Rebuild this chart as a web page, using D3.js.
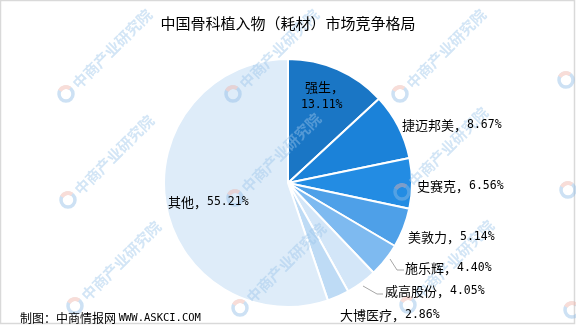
<!DOCTYPE html>
<html><head><meta charset="utf-8">
<script src="https://cdn.jsdelivr.net/npm/d3@7"></script>
<style>html,body{margin:0;padding:0;background:#fff;}svg{display:block;}</style>
</head><body>
<svg id="chart" width="576" height="326"></svg>
<script>
const title = "中国骨科植入物（耗材）市场竞争格局";
const categories = ["强生", "捷迈邦美", "史赛克", "美敦力", "施乐辉", "威高股份", "大博医疗", "其他"];
const values = [13.11, 8.67, 6.56, 5.14, 4.40, 4.05, 2.86, 55.21];
const colors = ["#1a76c5", "#1b82d9", "#238ce3", "#4ea0e8", "#7ebaf0", "#d3e6f8", "#bedbf5", "#deecf9"];
const footer = "制图：中商情报网 WWW.ASKCI.COM";
const watermark = "中商产业研究院";

const svg = d3.select("#chart");
const W = 576, H = 326;
const cx = 288, cy = 183, R = 124;

svg.append("rect").attr("x", 0.5).attr("y", 0.5).attr("width", W - 2).attr("height", H - 3)
  .attr("fill", "#fff").attr("stroke", "#d9d9d9").attr("stroke-width", 1.5);

const data = categories.map((c, i) => ({ name: c, value: values[i], color: colors[i] }));
const pie = d3.pie().value(d => d.value).sort(null).startAngle(0).endAngle(2 * Math.PI);
const arc = d3.arc().innerRadius(0).outerRadius(R);
const arcs = pie(data);

const g = svg.append("g").attr("transform", `translate(${cx},${cy})`);
g.selectAll("path").data(arcs).enter().append("path")
  .attr("d", arc).attr("fill", d => d.data.color)
  .attr("stroke", "#fff").attr("stroke-width", 2).attr("stroke-linejoin", "round");

// watermarks (kept inside the frame)
const wmPos = [[66, 94], [233, 94], [400, 94], [68, 200], [235, 198], [402, 192], [75, 306], [240, 308], [408, 305]];
const wmLogoOnly = [[566, 80], [568, 190], [572, 310]];
const wm = svg.append("g").attr("opacity", 0.45);
function logo(sel) {
  sel.append("circle").attr("r", 7).attr("fill", "none").attr("stroke", "#8fbde6").attr("stroke-width", 3.5);
  sel.append("path").attr("d", d3.arc().innerRadius(5).outerRadius(9).startAngle(-0.3).endAngle(1.4)())
    .attr("fill", "#f0b4a8");
}
wmPos.forEach(([x, y]) => {
  const w = wm.append("g").attr("transform", `translate(${x},${y}) rotate(-45)`);
  logo(w);
  w.append("text").attr("x", 12).attr("y", 0).attr("dominant-baseline", "central")
    .attr("font-family", "Noto Sans CJK SC").attr("font-weight", "bold").attr("font-size", 15)
    .attr("fill", "#9cc6ea").text(watermark);
});
wmLogoOnly.forEach(([x, y]) => {
  logo(wm.append("g").attr("transform", `translate(${x},${y}) rotate(-45)`));
});

// leader lines
const leaders = [
  { i: 4, pts: [[390, 259], [397, 270], [404, 270]] },
  { i: 5, pts: [[363, 286], [377, 294], [383, 294]] }
];
leaders.forEach(l => {
  svg.append("path").attr("d", d3.line()(l.pts)).attr("fill", "none")
    .attr("stroke", "#a6a6a6").attr("stroke-width", 1);
});

// labels
const labelPos = [null, [402, 124], [417, 185], [408, 236], [405, 267], [385, 290], [340, 314], [168, 201]];
const fontCJK = "Noto Sans CJK SC, sans-serif";
const fontNum = "DejaVu Sans Mono, monospace";
arcs.forEach((a, i) => {
  const pct = values[i].toFixed(2) + "%";
  if (i === 0) {
    svg.append("text").attr("x", 305).attr("y", 86).attr("dominant-baseline", "central")
      .attr("font-family", fontCJK).attr("font-size", 13).attr("fill", "#000").text(categories[i] + "，");
    svg.append("text").attr("x", 301).attr("y", 104).attr("dominant-baseline", "central")
      .attr("font-family", fontNum).attr("font-size", 11.5).attr("fill", "#000").text(pct);
    return;
  }
  const [x, y] = labelPos[i];
  const t = svg.append("text").attr("x", x).attr("y", y).attr("dominant-baseline", "central").attr("fill", "#000");
  t.append("tspan").attr("font-family", fontCJK).attr("font-size", 13).text(categories[i] + "，");
  t.append("tspan").attr("font-family", fontNum).attr("font-size", 11.5).text(pct);
});

svg.append("text").attr("x", 288).attr("y", 22).attr("text-anchor", "middle").attr("dominant-baseline", "central")
  .attr("font-family", fontCJK).attr("font-size", 15).attr("fill", "#000").text(title);

const ft = svg.append("text").attr("x", 20).attr("y", 317).attr("dominant-baseline", "central").attr("fill", "#000");
ft.append("tspan").attr("font-family", fontCJK).attr("font-size", 12).text("制图：中商情报网 ");
ft.append("tspan").attr("font-family", fontNum).attr("font-size", 10.5).text("WWW.ASKCI.COM");
</script>
</body></html>
